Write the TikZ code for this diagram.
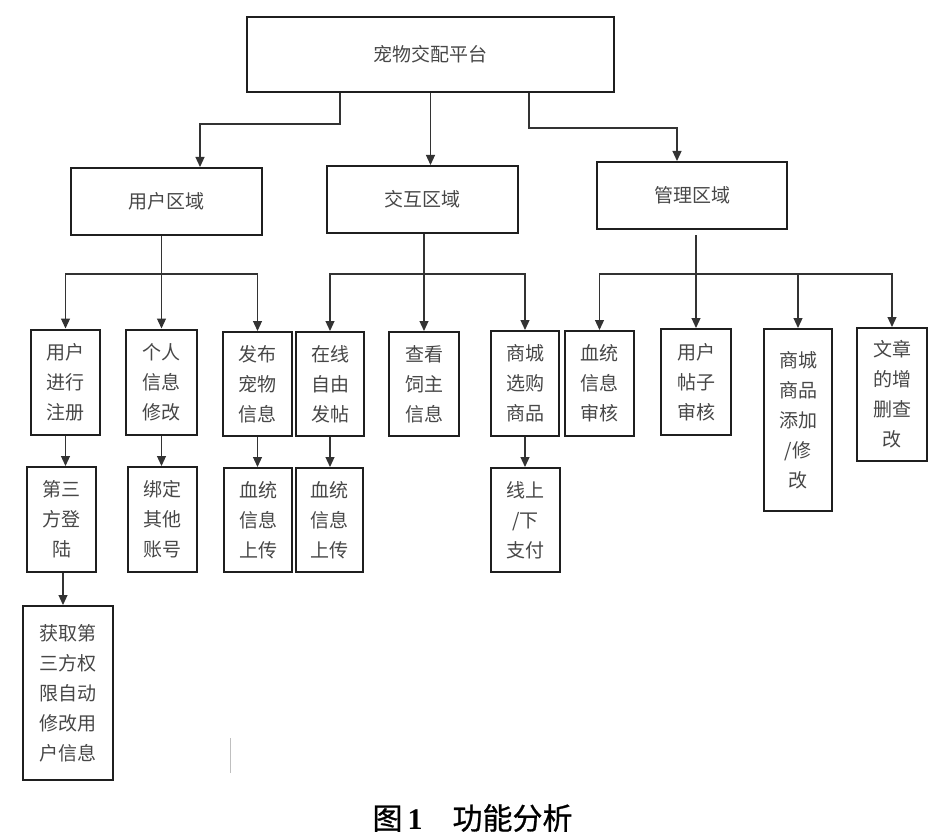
\documentclass[tikz,border=0pt]{standalone}
\usepackage{fontspec}
\setmainfont{Liberation Serif}
\newfontfamily\cjk{Noto Sans CJK SC}
\newfontfamily\capcjk[FakeBold=0.8]{Noto Sans CJK SC}
\usetikzlibrary{arrows.meta, positioning}

\begin{document}
\begin{tikzpicture}[x=1pt, y=-1pt, >={Triangle[width=9pt, length=10pt]},
	box/.style={draw=black!88, line width=2pt, align=center, inner sep=0pt,
		font=\cjk\fontsize{19}{30}\selectfont, text=black!72},
	wide/.style={box, minimum width=191pt, minimum height=67pt},
	col/.style={box, minimum width=69pt, minimum height=105pt},
	arr/.style={->, draw=black!80, line width=1.2pt}]
	\useasboundingbox (0,0) rectangle (950,837);

	\node (plat) [box, minimum width=367pt, minimum height=75pt] at (430.5,54.5) {宠物交配平台};
	\node (user) [wide] at (166.5,201.5) {用户区域};
	\node (inter) [wide] at (422.5,199.5) {交互区域};
	\node (admin) [wide, minimum width=190pt] at (692,195.5) {管理区域};

	\node (reg) [col] at (65.5,382) {用户\\进行\\注册};
	\node (info) [col, minimum width=71pt] at (161.5,382) {个人\\信息\\修改};
	\node (pub) [col, minimum height=104pt] at (257.5,384) {发布\\宠物\\信息};
	\node (post) [col, minimum width=68pt, minimum height=104pt] at (330,384) {在线\\自由\\发帖};
	\node (view) [col, minimum width=70pt, minimum height=104pt] at (424,384) {查看\\饲主\\信息};
	\node (shop) [col, minimum width=68pt] at (525,383.5) {商城\\选购\\商品};
	\node (audit) [col] at (599.5,383.5) {血统\\信息\\审核};
	\node (check) [col, minimum width=70pt, minimum height=106pt] at (696,382) {用户\\帖子\\审核};
	\node (goods) [col, minimum width=68pt, minimum height=182pt] at (798,420) {商城\\商品\\添加\\/修\\改};
	\node (art) [col, minimum width=70pt, minimum height=133pt] at (892,394.5) {文章\\的增\\删查\\改};

	\node (third) [col] at (61.5,519.5) {第三\\方登\\陆};
	\node (bind) [col] at (162.5,519.5) {绑定\\其他\\账号};
	\node (upa) [col, minimum width=68pt, minimum height=104pt] at (258,520) {血统\\信息\\上传};
	\node (upb) [col, minimum width=67pt, minimum height=104pt] at (329.5,520) {血统\\信息\\上传};
	\node (pay) [col, minimum height=104pt] at (525.5,520) {线上\\/下\\支付};
	\node (auth) [col, minimum width=90pt, minimum height=174pt] at (68,693) {获取第\\三方权\\限自动\\修改用\\户信息};

	\coordinate (bus) at (0,274);

	\draw[arr] ([xshift=-90.5pt]plat.south) -- ++(0,31) -| ([xshift=33.5pt]user.north);
	\draw[arr] (plat.south) -- (plat.south |- inter.north);
	\draw[arr] ([xshift=98.5pt]plat.south) -- ++(0,35) -| ([xshift=-15pt]admin.north);

	\draw[arr] (user.south -| info.north) -- (info.north);
	\draw[arr] (info.north |- bus) -| (reg.north);
	\draw[arr] (info.north |- bus) -| (pub.north);

	\draw[arr] (inter.south -| view.north) -- (view.north);
	\draw[arr] (view.north |- bus) -| (post.north);
	\draw[arr] (view.north |- bus) -| (shop.north);

	\draw[arr] ([yshift=-5pt]admin.south -| check.north) -- (check.north);
	\draw[arr] (check.north |- bus) -| (audit.north);
	\draw[arr] (check.north |- bus) -| (goods.north);
	\draw[arr] (check.north |- bus) -| (art.north);

	\draw[arr] (reg.south) -- (reg.south |- third.north);
	\draw[arr] (info.south) -- (info.south |- bind.north);
	\draw[arr] (pub.south) -- (pub.south |- upa.north);
	\draw[arr] (post.south) -- (post.south |- upb.north);
	\draw[arr] (shop.south) -- (shop.south |- pay.north);
	\draw[arr] ([xshift=1.5pt]third.south) -- ([xshift=1.5pt]third.south |- auth.north);

	\draw[black!25, line width=0.8pt] (230,738) -- (230,773);

	\node (cap) at (472.5,818) {\capcjk\fontsize{30}{34}\selectfont 图\,{\rmfamily\bfseries 1}\quad 功能分析};
\end{tikzpicture}
\end{document}
